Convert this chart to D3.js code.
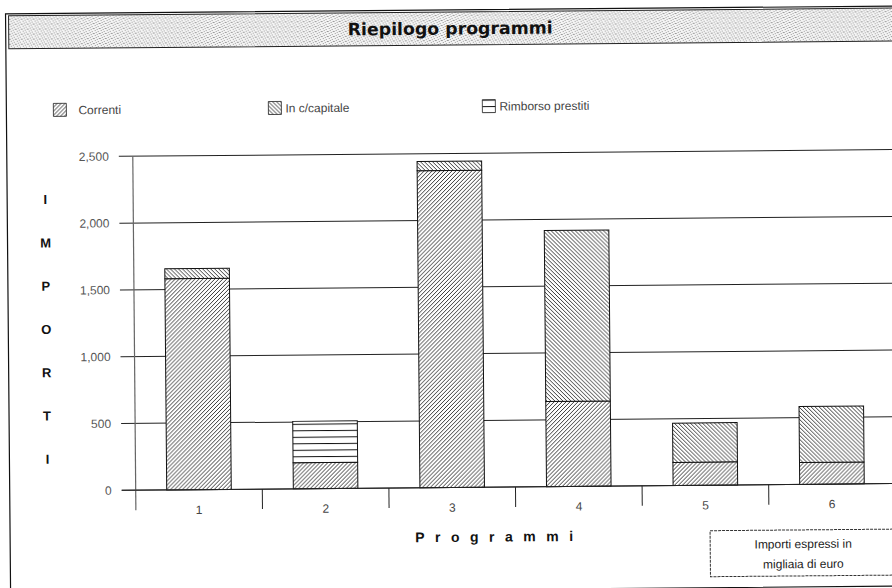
<!DOCTYPE html>
<html><head><meta charset="utf-8">
<script src="https://cdn.jsdelivr.net/npm/d3@7"></script>
<style>html,body{margin:0;padding:0;background:#fff;}svg{display:block;}</style>
</head><body>
<script>
const categories = ["1","2","3","4","5","6"];
const seriesNames = ["Correnti","In c/capitale","Rimborso prestiti"];
const correnti = [1580, 195, 2372, 637, 173, 164];
const capitale = [76, 0, 70, 1280, 294, 419];
const rimborso = [0, 310, 0, 0, 0, 0];
const yTicks = [0, 500, 1000, 1500, 2000, 2500];
const yTitleLetters = ["I","M","P","O","R","T","I"];
const titleText = "Riepilogo programmi";
const xTitle = "Programmi";
const noteLines = ["Importi espressi in", "migliaia di euro"];

const W = 892, H = 588;
const svg = d3.select("body").append("svg").attr("width", W).attr("height", H);
const defs = svg.append("defs");

// patterns
function hatch(id, d, sw, bg) {
  const p = defs.append("pattern").attr("id", id).attr("patternUnits","userSpaceOnUse")
    .attr("width", 4).attr("height", 4);
  p.append("rect").attr("width",4).attr("height",4).attr("fill", bg);
  p.append("path").attr("d", d).attr("stroke", "#222").attr("stroke-width", sw).attr("fill","none");
}
hatch("pCorr", "M-1,1 l2,-2 M0,4 l4,-4 M3,5 l2,-2", 0.9, "#fff");
hatch("pCap", "M-1,3 l2,2 M0,0 l4,4 M3,-1 l2,2", 0.9, "#fff");
const ph = defs.append("pattern").attr("id","pRim").attr("patternUnits","userSpaceOnUse")
  .attr("width", 8).attr("height", 6.5);
ph.append("rect").attr("width",8).attr("height",6.5).attr("fill","#fff");
ph.append("line").attr("x1",0).attr("x2",8).attr("y1",0.5).attr("y2",0.5).attr("stroke","#111").attr("stroke-width",1);
const pst = defs.append("pattern").attr("id","pStip").attr("patternUnits","userSpaceOnUse")
  .attr("width", 6).attr("height", 5);
pst.append("rect").attr("width",6).attr("height",5).attr("fill","#f4f4f4");
[[0,0],[3,1],[1,2],[4,3],[2,4],[5,0]].forEach(([a,b]) =>
  pst.append("rect").attr("x",a).attr("y",b).attr("width",1).attr("height",1).attr("fill","#9a9a9a"));

const fills = ["url(#pCorr)","url(#pCap)","url(#pRim)"];

const g = svg.append("g").attr("transform", "rotate(-0.5 446 294)");

// outer frame
g.append("rect").attr("x", 8).attr("y", 10).attr("width", 900).attr("height", 580)
  .attr("fill","none").attr("stroke","#111").attr("stroke-width",1.2);

// title box
g.append("rect").attr("x", 11).attr("y", 12).attr("width", 895).attr("height", 33)
  .attr("fill","url(#pStip)").attr("stroke","#222").attr("stroke-width",1);
g.append("text").attr("x", 350).attr("y", 34.5)
  .attr("font-family","'Liberation Sans Narrow','DejaVu Sans Condensed','Liberation Sans',sans-serif")
  .attr("font-weight","bold").attr("font-size", 17).attr("fill","#111")
  .attr("textLength", 205).attr("lengthAdjust","spacingAndGlyphs").text(titleText);

// legend
const legX = [55, 270, 484];
seriesNames.forEach((n,i) => {
  const lg = g.append("g").attr("transform", `translate(${legX[i]},100)`);
  lg.append("rect").attr("width",13).attr("height",13).attr("fill",fills[i]).attr("stroke","#222").attr("stroke-width",0.8);
  lg.append("text").attr("x", i===0?25:17).attr("y", 11).attr("font-family","'Liberation Sans',Arial,sans-serif")
    .attr("font-size", 12).attr("fill","#444").text(n);
});

// scales
const x0 = 134, x1 = 134 + 6*126.6;
const x = d3.scaleBand().domain(categories).range([x0, x1]).paddingInner(0.49).paddingOuter(0.245);
const xb = d3.scaleBand().domain(categories).range([x0, x1]).padding(0);
const y = d3.scaleLinear().domain([0, 2500]).range([487.5, 153.5]);

// gridlines
g.append("g").selectAll("line").data(yTicks).join("line")
  .attr("x1", 120).attr("x2", 905).attr("y1", d=>y(d)).attr("y2", d=>y(d))
  .attr("stroke","#222").attr("stroke-width",1);

// y labels
g.append("g").selectAll("text").data(yTicks).join("text")
  .attr("x", 110).attr("y", d=>y(d)).attr("dy","0.35em").attr("text-anchor","end")
  .attr("font-family","'Liberation Sans',Arial,sans-serif").attr("font-size",12).attr("fill","#555")
  .text(d3.format(","));

// stacked bars
const rows = categories.map((c,i)=>({cat:c, Correnti:correnti[i], "In c/capitale":capitale[i], "Rimborso prestiti":rimborso[i]}));
const stack = d3.stack().keys(seriesNames)(rows);
stack.forEach((s, si) => {
  g.append("g").selectAll("rect").data(s.filter(d => d[1]-d[0] > 0)).join("rect")
    .attr("x", d => x(d.data.cat)).attr("width", x.bandwidth())
    .attr("y", d => y(d[1])).attr("height", d => y(d[0]) - y(d[1]))
    .attr("fill", fills[si]).attr("stroke","#111").attr("stroke-width",1);
});

// y axis line
g.append("line").attr("x1",x0).attr("x2",x0).attr("y1",y(2500)).attr("y2",y(0)+20)
  .attr("stroke","#666").attr("stroke-width",1.2);
// x axis
g.append("line").attr("x1",120).attr("x2",905).attr("y1",y(0)).attr("y2",y(0)).attr("stroke","#222").attr("stroke-width",1);
g.append("g").selectAll("line").data(categories.slice(1)).join("line")
  .attr("x1", d=>xb(d)).attr("x2", d=>xb(d)).attr("y1", y(0)).attr("y2", y(0)+20)
  .attr("stroke","#222").attr("stroke-width",1);
g.append("g").selectAll("text").data(categories).join("text")
  .attr("x", d=>xb(d)+xb.bandwidth()/2).attr("y", y(0)+20).attr("dy","0.35em").attr("text-anchor","middle")
  .attr("font-family","'Liberation Sans',Arial,sans-serif").attr("font-size",12).attr("fill","#444").text(d=>d);

// y title letters
g.append("g").selectAll("text").data(yTitleLetters).join("text")
  .attr("x", 46).attr("y", (d,i)=> 196 + i*43.3).attr("dy","0.35em").attr("text-anchor","middle")
  .attr("font-family","'Liberation Sans',Arial,sans-serif").attr("font-weight","bold").attr("font-size",13)
  .attr("fill","#111").text(d=>d);

// x title
g.append("text").attr("x", 413).attr("y", 542)
  .attr("font-family","'Liberation Sans',Arial,sans-serif").attr("font-weight","bold").attr("font-size",14)
  .attr("letter-spacing", "10.5px").attr("fill","#111").text(xTitle);

// note box
g.append("rect").attr("x",708).attr("y",533).attr("width",200).attr("height",46)
  .attr("fill","#fff").attr("stroke","#333").attr("stroke-width",1).attr("stroke-dasharray","3,1");
g.append("g").selectAll("text").data(noteLines).join("text")
  .attr("x", 801).attr("y",(d,i)=>547 + i*20).attr("dy","0.35em").attr("text-anchor","middle")
  .attr("font-family","'Liberation Sans',Arial,sans-serif").attr("font-size",12).attr("fill","#222").text(d=>d);
</script>
</body></html>
